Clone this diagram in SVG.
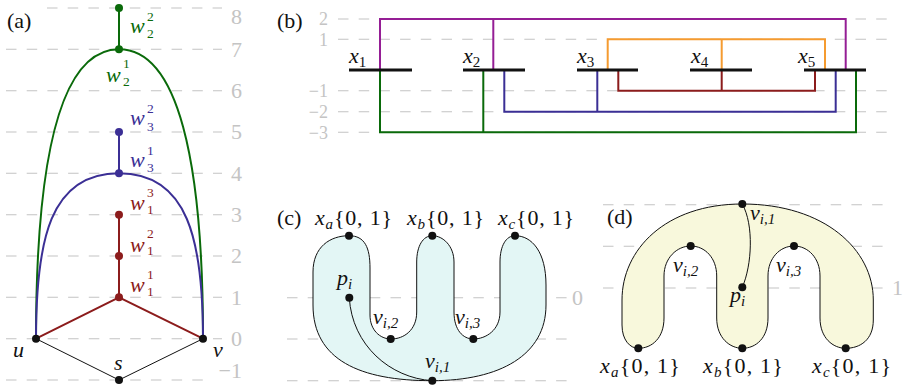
<svg xmlns="http://www.w3.org/2000/svg" width="905" height="389" viewBox="0 0 905 389" font-family="'Liberation Serif','Times New Roman',serif">
<style>
text{font-family:"Liberation Serif","Times New Roman",serif;font-size:22px;fill:#111}
.it{font-style:italic}
.sm{font-size:15px}
text.ss{font-size:13.5px}
text.gl{fill:#c4c4c4}
text.gl2{fill:#c4c4c4;font-size:18px}
text.tg{fill:#0a6a0a}
text.tb{fill:#3b2f95}
text.tr{fill:#8c1c1c}
.grid{stroke:#c4c4c4;stroke-width:1.1;stroke-dasharray:10.5 10.2;fill:none}
.ln{fill:none;stroke-width:2}
.g{stroke:#0a6a0a}.b{stroke:#3b2f95}.r{stroke:#8c1c1c}.p{stroke:#951e95}.o{stroke:#f59b30}
.bar{stroke:#111;stroke-width:3.2}
.shape{stroke:#111;stroke-width:1}
.n{fill:#111}
</style>
<g id="grid-a">
<path class="grid" d="M47 8H222M6 49.3H222M6 90.7H222M6 132H222M6 173.3H222M6 214.7H222M6 256H222M6 297.3H222M6 338.7H222M6 380H207"/>
<g text-anchor="end">
<text class="gl" x="242" y="24">8</text><text class="gl" x="242" y="57">7</text><text class="gl" x="242" y="98">6</text><text class="gl" x="242" y="139">5</text><text class="gl" x="242" y="181">4</text><text class="gl" x="242" y="222">3</text><text class="gl" x="242" y="263">2</text><text class="gl" x="242" y="305">1</text><text class="gl" x="242" y="346">0</text><text class="gl" x="242" y="378">−1</text>
</g>
</g>
<text x="7" y="28">(a)</text>
<g id="connectors-a">
<path class="ln g" d="M36 338.7C36 160 60 49.3 119 49.3C178 49.3 203 160 203 338.7"/>
<path class="ln b" d="M36 338.7C36 240 50 173.3 119 173.3C188 173.3 203 240 203 338.7"/>
<path class="ln g" d="M119 8V49.3"/>
<path class="ln b" d="M119 132V173.3"/>
<path class="ln r" d="M36 338.7L119 297.3L203 338.7M119 297.3V214.7"/>
<path fill="none" stroke="#111" stroke-width="1" d="M36 338.7L119 380L203 338.7"/>
</g>
<g id="node-w22"><circle cx="119" cy="8" r="4" fill="#0a6a0a"/><text class="it tg" x="130" y="33">w</text><text class="ss tg" x="147" y="21">2</text><text class="ss tg" x="147" y="38">2</text></g>
<g id="node-w21"><circle cx="119" cy="49.3" r="4" fill="#0a6a0a"/><text class="it tg" x="106" y="82">w</text><text class="ss tg" x="123" y="68">1</text><text class="ss tg" x="123" y="86">2</text></g>
<g id="node-w32"><circle cx="119" cy="132" r="4" fill="#3b2f95"/><text class="it tb" x="130" y="125">w</text><text class="ss tb" x="147" y="113">2</text><text class="ss tb" x="147" y="131">3</text></g>
<g id="node-w31"><circle cx="119" cy="173.3" r="4" fill="#3b2f95"/><text class="it tb" x="130" y="167">w</text><text class="ss tb" x="147" y="155">1</text><text class="ss tb" x="147" y="172">3</text></g>
<g id="node-w13"><circle cx="119" cy="214.7" r="4" fill="#8c1c1c"/><text class="it tr" x="130" y="210">w</text><text class="ss tr" x="147" y="197">3</text><text class="ss tr" x="147" y="214">1</text></g>
<g id="node-w12"><circle cx="119" cy="256" r="4" fill="#8c1c1c"/><text class="it tr" x="130" y="252">w</text><text class="ss tr" x="147" y="238">2</text><text class="ss tr" x="147" y="255">1</text></g>
<g id="node-w11"><circle cx="119" cy="297.3" r="4" fill="#8c1c1c"/><text class="it tr" x="130" y="292">w</text><text class="ss tr" x="147" y="279">1</text><text class="ss tr" x="147" y="296">1</text></g>
<g id="node-u"><circle class="n" cx="36" cy="338.7" r="4"/><text class="it" x="13" y="357">u</text></g>
<g id="node-v"><circle class="n" cx="203" cy="338.7" r="4"/><text class="it" x="213" y="357">v</text></g>
<g id="node-s"><circle class="n" cx="119" cy="380" r="4"/><text class="it" x="114" y="370">s</text></g>

<g id="grid-b">
<path class="grid" d="M338 19H887M338 39.3H887M338 90.7H887M338 111.7H887M338 132.3H887"/>
<g text-anchor="end">
<text class="gl2" x="328" y="25">2</text><text class="gl2" x="328" y="45.5">1</text><text class="gl2" x="328" y="97">−1</text><text class="gl2" x="328" y="118">−2</text><text class="gl2" x="328" y="138.5">−3</text>
</g>
</g>
<text x="277" y="28">(b)</text>
<g id="connectors-b">
<path class="ln p" d="M380 70V19H845.7V70M493.3 19V70"/>
<path class="ln g" d="M380 70V132.3H856V70M483.3 132.3V70"/>
<path class="ln b" d="M504.3 70V111.7H835.7V70M597.3 111.7V70"/>
<path class="ln o" d="M607.7 70V39.3H825V70M721.7 39.3V70"/>
<path class="ln r" d="M618.3 70V90.7H815V70M721.7 90.7V70"/>
</g>
<g id="node-x1"><path class="bar" d="M349 70H412"/><text x="349" y="63"><tspan class="it">x</tspan><tspan class="sm" dy="4">1</tspan></text></g>
<g id="node-x2"><path class="bar" d="M463 70H525"/><text x="463" y="63"><tspan class="it">x</tspan><tspan class="sm" dy="4">2</tspan></text></g>
<g id="node-x3"><path class="bar" d="M577 70H638"/><text x="577" y="63"><tspan class="it">x</tspan><tspan class="sm" dy="4">3</tspan></text></g>
<g id="node-x4"><path class="bar" d="M690 70H752"/><text x="691" y="63"><tspan class="it">x</tspan><tspan class="sm" dy="4">4</tspan></text></g>
<g id="node-x5"><path class="bar" d="M804 70H866"/><text x="798" y="63"><tspan class="it">x</tspan><tspan class="sm" dy="4">5</tspan></text></g>

<g id="grid-c">
<path class="grid" d="M287 297.7H567M287 339H567M287 380.7H567"/>
<text class="gl" x="572" y="305">0</text>
</g>
<text x="277" y="225">(c)</text>
<g id="shape-c">
<path class="shape" fill="#e3f6f5" d="M432 380.7C360 380.7 313 360 313 305L313 272C313 247 330 235.7 349 235.7C365 235.7 370 248 370 268L370 315C370 330 380 339 391 339C404 339 416.7 330 416.7 312L416.7 262C416.7 246 423 235.7 432.3 235.7C443 235.7 454 246 454 262L454 312C454 330 463 339 473.3 339C486 339 500 330 500 312L500 262C500 246 506 235.7 515 235.7C532 235.7 546 252 546 285L546 305C546 355 500 380.7 432 380.7Z"/>
</g>
<g id="connectors-c"><path fill="none" stroke="#111" stroke-width="1" d="M349.3 297.7C352 345 390 378 432.3 380.7"/></g>
<g id="node-ca"><circle class="n" cx="349" cy="235.7" r="4"/><text x="315" y="225" letter-spacing="0.8"><tspan class="it">x</tspan><tspan class="sm it" dy="4">a</tspan><tspan dy="-4">{0, 1}</tspan></text></g>
<g id="node-cb"><circle class="n" cx="432.3" cy="235.7" r="4"/><text x="407" y="225" letter-spacing="0.8"><tspan class="it">x</tspan><tspan class="sm it" dy="4">b</tspan><tspan dy="-4">{0, 1}</tspan></text></g>
<g id="node-cc"><circle class="n" cx="515" cy="235.7" r="4"/><text x="498" y="225" letter-spacing="0.8"><tspan class="it">x</tspan><tspan class="sm it" dy="4">c</tspan><tspan dy="-4">{0, 1}</tspan></text></g>
<g id="node-cp"><circle class="n" cx="349.3" cy="297.7" r="4"/><text x="337" y="285"><tspan class="it">p</tspan><tspan class="sm it" dy="4">i</tspan></text></g>
<g id="node-cv2"><circle class="n" cx="390.7" cy="339" r="4"/><text x="373" y="324"><tspan class="it">v</tspan><tspan class="sm it" dy="4">i,2</tspan></text></g>
<g id="node-cv3"><circle class="n" cx="473.3" cy="339" r="4"/><text x="455" y="324"><tspan class="it">v</tspan><tspan class="sm it" dy="4">i,3</tspan></text></g>
<g id="node-cv1"><circle class="n" cx="432.3" cy="380.7" r="4"/><text x="425" y="368"><tspan class="it">v</tspan><tspan class="sm it" dy="4">i,1</tspan></text></g>

<g id="grid-d">
<path class="grid" d="M603 204.7H888M603 246.3H888M603 288H888"/>
<text class="gl" x="892" y="295">1</text>
</g>
<text x="607" y="224">(d)</text>
<g id="shape-d">
<path class="shape" fill="#f8f8dc" d="M742.3 204C665 204 622 250 622 300L622 325C622 340 630 348.3 638.3 348.3C652 348.3 664 338 664 318L664 276C664 258 677 246 690.7 246C705 246 716.7 258 716.7 276L716.7 318C716.7 338 730 348.3 742.3 348.3C756 348.3 768 338 768 318L768 276C768 258 780 246 794 246C808 246 820 258 820 276L820 318C820 338 833 348.3 845.7 348.3C860 348.3 873.3 340 873.3 320L873.3 300C873.3 250 825 204 742.3 204Z"/>
</g>
<g id="connectors-d"><path fill="none" stroke="#111" stroke-width="1" d="M742.3 204C754 225 752 265 742.3 287.3"/></g>
<g id="node-dv1"><circle class="n" cx="742.3" cy="204" r="4"/><text x="750" y="220"><tspan class="it">v</tspan><tspan class="sm it" dy="4">i,1</tspan></text></g>
<g id="node-dv2"><circle class="n" cx="690.7" cy="246" r="4"/><text x="673" y="272"><tspan class="it">v</tspan><tspan class="sm it" dy="4">i,2</tspan></text></g>
<g id="node-dv3"><circle class="n" cx="794" cy="246" r="4"/><text x="776" y="272"><tspan class="it">v</tspan><tspan class="sm it" dy="4">i,3</tspan></text></g>
<g id="node-dp"><circle class="n" cx="742.3" cy="287.3" r="4"/><text x="730" y="302"><tspan class="it">p</tspan><tspan class="sm it" dy="4">i</tspan></text></g>
<g id="node-da"><circle class="n" cx="638.3" cy="348.3" r="4"/><text x="600" y="373" letter-spacing="1.2"><tspan class="it">x</tspan><tspan class="sm it" dy="4">a</tspan><tspan dy="-4">{0, 1}</tspan></text></g>
<g id="node-db"><circle class="n" cx="742.3" cy="348.3" r="4"/><text x="703" y="373" letter-spacing="1.2"><tspan class="it">x</tspan><tspan class="sm it" dy="4">b</tspan><tspan dy="-4">{0, 1}</tspan></text></g>
<g id="node-dc"><circle class="n" cx="845.7" cy="348.3" r="4"/><text x="812" y="373" letter-spacing="1.2"><tspan class="it">x</tspan><tspan class="sm it" dy="4">c</tspan><tspan dy="-4">{0, 1}</tspan></text></g>
</svg>
